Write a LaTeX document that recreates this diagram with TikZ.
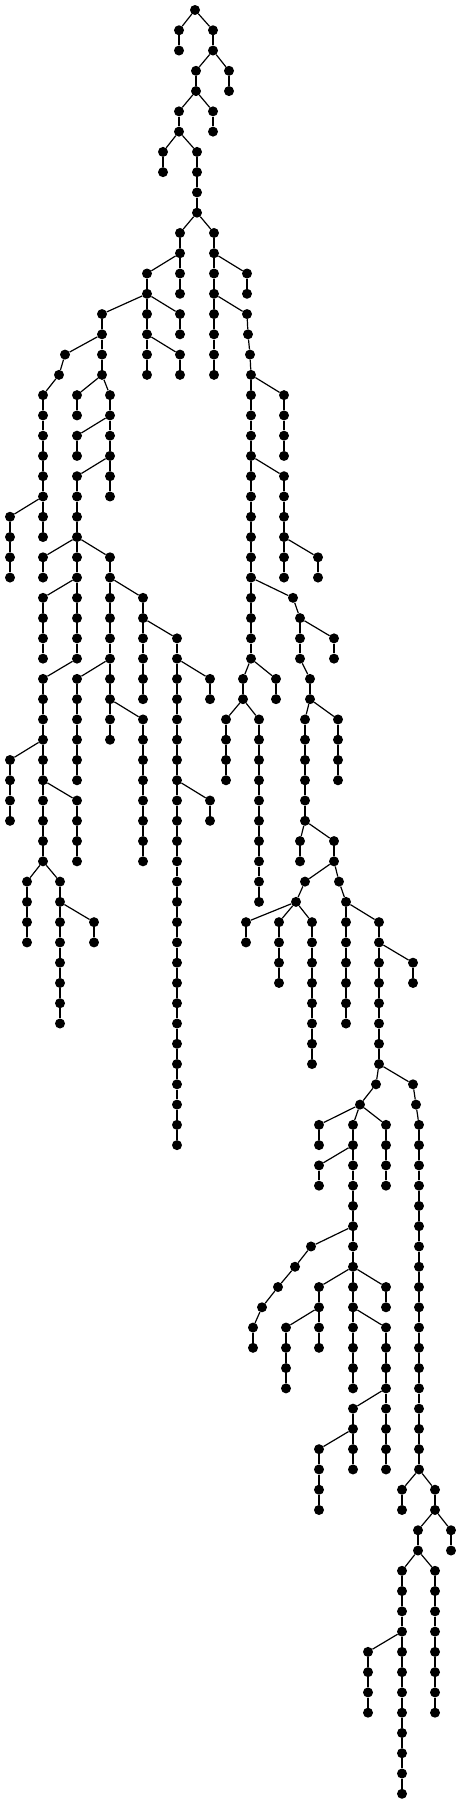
\documentclass[tikz,border=0pt]{standalone}
\tikzset{
  vtx/.style={circle, fill=black, inner sep=0pt, minimum size=10pt},
  lnk/.style={line width=1.2pt}
}
% level/x/parent x
\newcommand{\treeverts}{%
1/179/195, 1/213/195, 2/179/179, 2/213/213, 3/196/213, 3/229/213,
4/196/196, 4/229/229, 5/179/196, 5/213/196, 6/179/179, 6/213/213,
7/163/179, 7/197/179, 8/163/163, 8/197/197, 9/197/197, 10/197/197,
11/180/197, 11/214/197, 12/180/180, 12/214/214,
13/147/180, 13/180/180, 13/214/214, 13/247/214,
14/147/147, 14/180/180, 14/214/214, 14/247/247,
15/102/147, 15/147/147, 15/180/147, 15/214/214, 15/247/214,
16/102/102, 16/147/147, 16/180/180, 16/214/214, 16/248/247,
17/65/102, 17/102/102, 17/147/147, 17/180/147, 17/214/214, 17/250/248,
18/59/65, 18/102/102, 18/147/147, 18/180/180, 18/214/214, 18/251/250,
19/43/59, 19/77/102, 19/110/102, 19/251/251, 19/284/251,
20/43/43, 20/77/77, 20/110/110, 20/251/251, 20/284/284,
21/43/43, 21/77/110, 21/110/110, 21/251/251, 21/284/284,
22/43/43, 22/77/77, 22/110/110, 22/251/251, 22/284/284,
23/43/43, 23/77/110, 23/110/110, 23/251/251, 23/284/251,
24/43/43, 24/77/77, 24/110/110, 24/251/251, 24/284/284,
25/10/43, 25/43/43, 25/77/77, 25/251/251, 25/284/284,
26/10/10, 26/43/43, 26/77/77, 26/251/251, 26/284/284,
27/10/10, 27/43/77, 27/77/77, 27/110/77, 27/251/251, 27/284/284, 27/318/284,
28/10/10, 28/43/43, 28/77/77, 28/110/110, 28/251/251, 28/284/284, 28/318/318,
29/43/77, 29/77/77, 29/110/110, 29/143/110, 29/251/251, 29/293/251,
30/43/43, 30/77/77, 30/110/110, 30/143/143, 30/251/251, 30/300/293,
31/43/43, 31/77/77, 31/110/110, 31/143/143, 31/177/143, 31/251/251, 31/300/300, 31/334/300,
32/43/43, 32/77/77, 32/110/110, 32/143/143, 32/177/177, 32/251/251, 32/300/300, 32/334/334,
33/43/77, 33/77/110, 33/110/110, 33/143/143, 33/177/177, 33/210/177, 33/243/251, 33/276/251, 33/310/300,
34/43/43, 34/77/77, 34/110/110, 34/143/143, 34/177/177, 34/210/210, 34/243/243, 34/276/276, 34/310/310,
35/43/43, 35/77/77, 35/110/110, 35/143/110, 35/177/177, 35/226/243, 35/259/243, 35/305/310, 35/338/310,
36/43/43, 36/77/77, 36/110/110, 36/143/143, 36/177/177, 36/226/226, 36/259/259, 36/305/305, 36/338/338,
37/10/43, 37/43/43, 37/77/77, 37/143/143, 37/177/177, 37/226/226, 37/259/259, 37/305/305, 37/338/338,
38/10/10, 38/43/43, 38/77/77, 38/143/143, 38/177/177, 38/226/226, 38/259/259, 38/305/305, 38/338/338,
39/10/10, 39/43/43, 39/77/43, 39/143/143, 39/177/177, 39/210/177, 39/259/259, 39/305/305,
40/10/10, 40/43/43, 40/77/77, 40/143/143, 40/177/177, 40/210/210, 40/259/259, 40/305/305,
41/43/43, 41/77/77, 41/143/143, 41/177/177, 41/259/259, 41/300/305, 41/334/305,
42/43/43, 42/77/77, 42/143/143, 42/177/177, 42/259/259, 42/300/300, 42/334/334,
43/27/43, 43/60/43, 43/177/177, 43/259/259, 43/305/334, 43/339/334,
44/27/27, 44/60/60, 44/177/177, 44/259/259, 44/296/305, 44/346/339,
45/27/27, 45/60/60, 45/94/60, 45/177/177, 45/246/296, 45/279/296, 45/312/296, 45/346/346, 45/379/346,
46/27/27, 46/60/60, 46/94/94, 46/177/177, 46/246/246, 46/279/279, 46/312/312, 46/346/346, 46/379/379,
47/60/60, 47/177/177, 47/279/279, 47/312/312, 47/346/346, 47/379/379, 47/413/379,
48/60/60, 48/177/177, 48/279/279, 48/312/312, 48/346/346, 48/379/379, 48/413/413,
49/60/60, 49/177/177, 49/312/312, 49/346/346, 49/379/379,
50/60/60, 50/177/177, 50/312/312, 50/346/346, 50/379/379,
51/177/177, 51/312/312, 51/379/379,
52/177/177, 52/312/312, 52/379/379,
53/177/177, 53/376/379, 53/413/379,
54/177/177, 54/360/376, 54/416/413,
55/177/177, 55/319/360, 55/353/360, 55/386/360, 55/419/416,
56/177/177, 56/319/319, 56/353/353, 56/386/386, 56/419/419,
57/319/353, 57/353/353, 57/386/386, 57/419/419,
58/319/319, 58/353/353, 58/386/386, 58/419/419,
59/353/353, 59/419/419, 60/353/353, 60/419/419,
61/311/353, 61/353/353, 61/419/419,
62/295/311, 62/353/353, 62/419/419,
63/278/295, 63/319/353, 63/353/353, 63/386/353, 63/419/419,
64/262/278, 64/319/319, 64/353/353, 64/386/386, 64/419/419,
65/253/262, 65/286/319, 65/319/319, 65/353/353, 65/386/353, 65/419/419,
66/253/253, 66/286/286, 66/319/319, 66/353/353, 66/386/386, 66/419/419,
67/286/286, 67/353/353, 67/386/386, 67/419/419,
68/286/286, 68/353/353, 68/386/386, 68/419/419,
69/353/386, 69/386/386, 69/419/419,
70/353/353, 70/386/386, 70/419/419,
71/319/353, 71/353/353, 71/386/386, 71/419/419,
72/319/319, 72/353/353, 72/386/386, 72/419/419,
73/319/319, 73/402/419, 73/435/419,
74/319/319, 74/402/402, 74/435/435,
75/418/435, 75/451/435, 76/418/418, 76/451/451,
77/402/418, 77/435/418, 78/402/402, 78/435/435,
79/402/402, 79/435/435, 80/402/402, 80/435/435,
81/368/402, 81/402/402, 81/435/435,
82/368/368, 82/402/402, 82/435/435,
83/368/368, 83/402/402, 83/435/435,
84/368/368, 84/402/402, 84/435/435,
85/402/402, 86/402/402, 87/402/402, 88/402/402}

\begin{document}
\begin{tikzpicture}[x=1pt, y=1pt]
\useasboundingbox (0,0) rectangle (462,-1804);

% vertices
\node[vtx] (n0-195) at (195,-10) {};
\foreach \l/\x/\p in \treeverts {
  \node[vtx] (n\l-\x) at (\x,{-10-20.27*\l}) {};
}

% edges to parents
\foreach \l/\x/\p in \treeverts {
  \pgfmathtruncatemacro\pl{\l-1}
  \draw[lnk] (n\pl-\p) -- (n\l-\x);
}
\end{tikzpicture}
\end{document}
